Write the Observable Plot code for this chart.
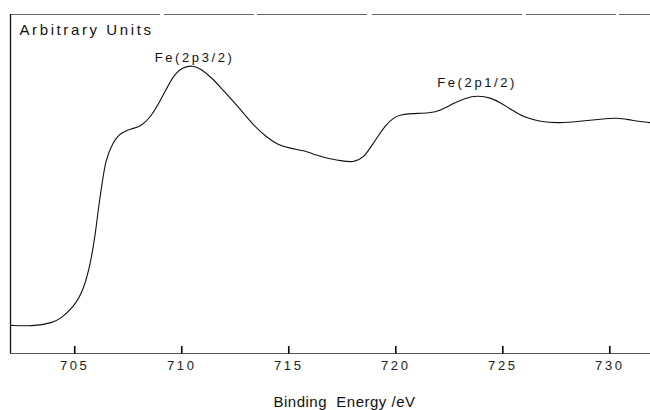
<!DOCTYPE html>
<html>
<head>
<meta charset="utf-8">
<script src="https://cdn.jsdelivr.net/npm/d3@7"></script>
<script src="https://cdn.jsdelivr.net/npm/@observablehq/plot@0.6"></script>
<style>
  html, body { margin: 0; padding: 0; background: #fff; }
  #chart { width: 650px; height: 410px; }
  .spec g[aria-label="x-axis tick label"] text { letter-spacing: 2.6px; }
  .spec g.peaks text { letter-spacing: 2.6px; }
  .spec g.ylab text { letter-spacing: 2.6px; }
  .spec g.xlab text { letter-spacing: 0.5px; }
</style>
</head>
<body>
<div id="chart"></div>
<script>
// Binding energy (eV) and intensity (arbitrary units)
const energy = [702.0, 703.0, 704.0, 704.34, 704.94, 705.41, 705.74, 705.97, 706.11, 706.30, 706.44, 706.77, 707.14, 707.70, 708.07, 708.54, 709.01, 709.62, 710.04, 710.50, 710.88, 711.49, 711.81, 712.75, 713.36, 714.01, 714.48, 715.08, 715.69, 716.25, 716.81, 717.42, 718.03, 718.50, 718.82, 719.15, 719.52, 719.90, 720.22, 720.69, 721.63, 722.09, 722.70, 723.26, 723.82, 724.43, 724.90, 725.46, 725.97, 726.77, 727.56, 728.78, 729.57, 730.36, 730.98, 731.9];
const intensity = [8.3, 8.0, 9.1, 10.3, 13.6, 18.6, 26.6, 35.4, 43.1, 51.0, 56.9, 62.2, 65.2, 66.4, 66.9, 69.6, 74.6, 82.3, 84.4, 85.0, 84.1, 80.8, 78.5, 72.0, 67.2, 63.6, 61.6, 60.5, 59.9, 58.6, 57.5, 56.9, 56.3, 57.8, 60.8, 63.9, 67.3, 69.6, 70.4, 70.8, 70.9, 71.7, 73.8, 75.4, 76.1, 75.5, 73.9, 71.7, 69.7, 68.4, 67.9, 68.6, 69.1, 69.6, 68.8, 68.1];

// Peak annotations
const peakLabels = ["Fe(2p3/2)", "Fe(2p1/2)"];
const peakEnergy = [710.6, 723.8];
const peakLabelY = [87.3, 79.9];

const xTicks = [705, 710, 715, 720, 725, 730];
const xDomain = [702, 731.9];
const yDomain = [0, 100];
const yLabel = "Arbitrary Units";
const xLabel = "Binding  Energy /eV";

const spectrum = energy.map((e, i) => ({e, v: intensity[i]}));
const peaks = peakLabels.map((t, i) => ({t, e: peakEnergy[i], v: peakLabelY[i]}));
const tickRows = xTicks.map(t => ({t, v0: 0, v1: 2.2}));

const font = "'Liberation Sans', Arial, sans-serif";

const chart = Plot.plot({
  width: 650,
  height: 410,
  marginLeft: 10,
  marginRight: 0,
  marginTop: 14,
  marginBottom: 57,
  className: "spec",
  style: {fontFamily: font, background: "#fff", color: "#111"},
  x: {domain: xDomain},
  y: {domain: yDomain, axis: null},
  marks: [
    Plot.ruleY([yDomain[1]], {stroke: "#666", strokeWidth: 1, strokeDasharray: "150,4,90,3,110,5"}),
    Plot.ruleX([xDomain[0]], {stroke: "#111", strokeWidth: 1.3}),
    Plot.ruleY([yDomain[0]], {stroke: "#555", strokeWidth: 1.2}),
    // short upward tick marks on the energy axis
    Plot.link(tickRows, {x1: "t", x2: "t", y1: "v0", y2: "v1", stroke: "#000", strokeWidth: 1.6}),
    Plot.axisX({
      ticks: xTicks,
      tickSize: 0,
      tickPadding: 7,
      tickFormat: d => String(d),
      fontSize: 13,
      fill: "#222",
      label: null,
      ariaLabel: "x-axis"
    }),
    Plot.line(spectrum, {x: "e", y: "v", curve: "basis", stroke: "#111", strokeWidth: 1.1}),
    Plot.text(peaks, {x: "e", y: "v", text: "t", fontSize: 13, fill: "#111", className: "peaks"}),
    Plot.text([yLabel], {frameAnchor: "top-left", dx: 9, dy: 10, fontSize: 15, fill: "#111", textAnchor: "start", lineAnchor: "top", className: "ylab"}),
    Plot.text([xLabel], {frameAnchor: "bottom", dx: 14, dy: 53, fontSize: 15, fill: "#111", lineAnchor: "bottom", className: "xlab"})
  ]
});

document.getElementById("chart").appendChild(chart);
</script>
</body>
</html>
